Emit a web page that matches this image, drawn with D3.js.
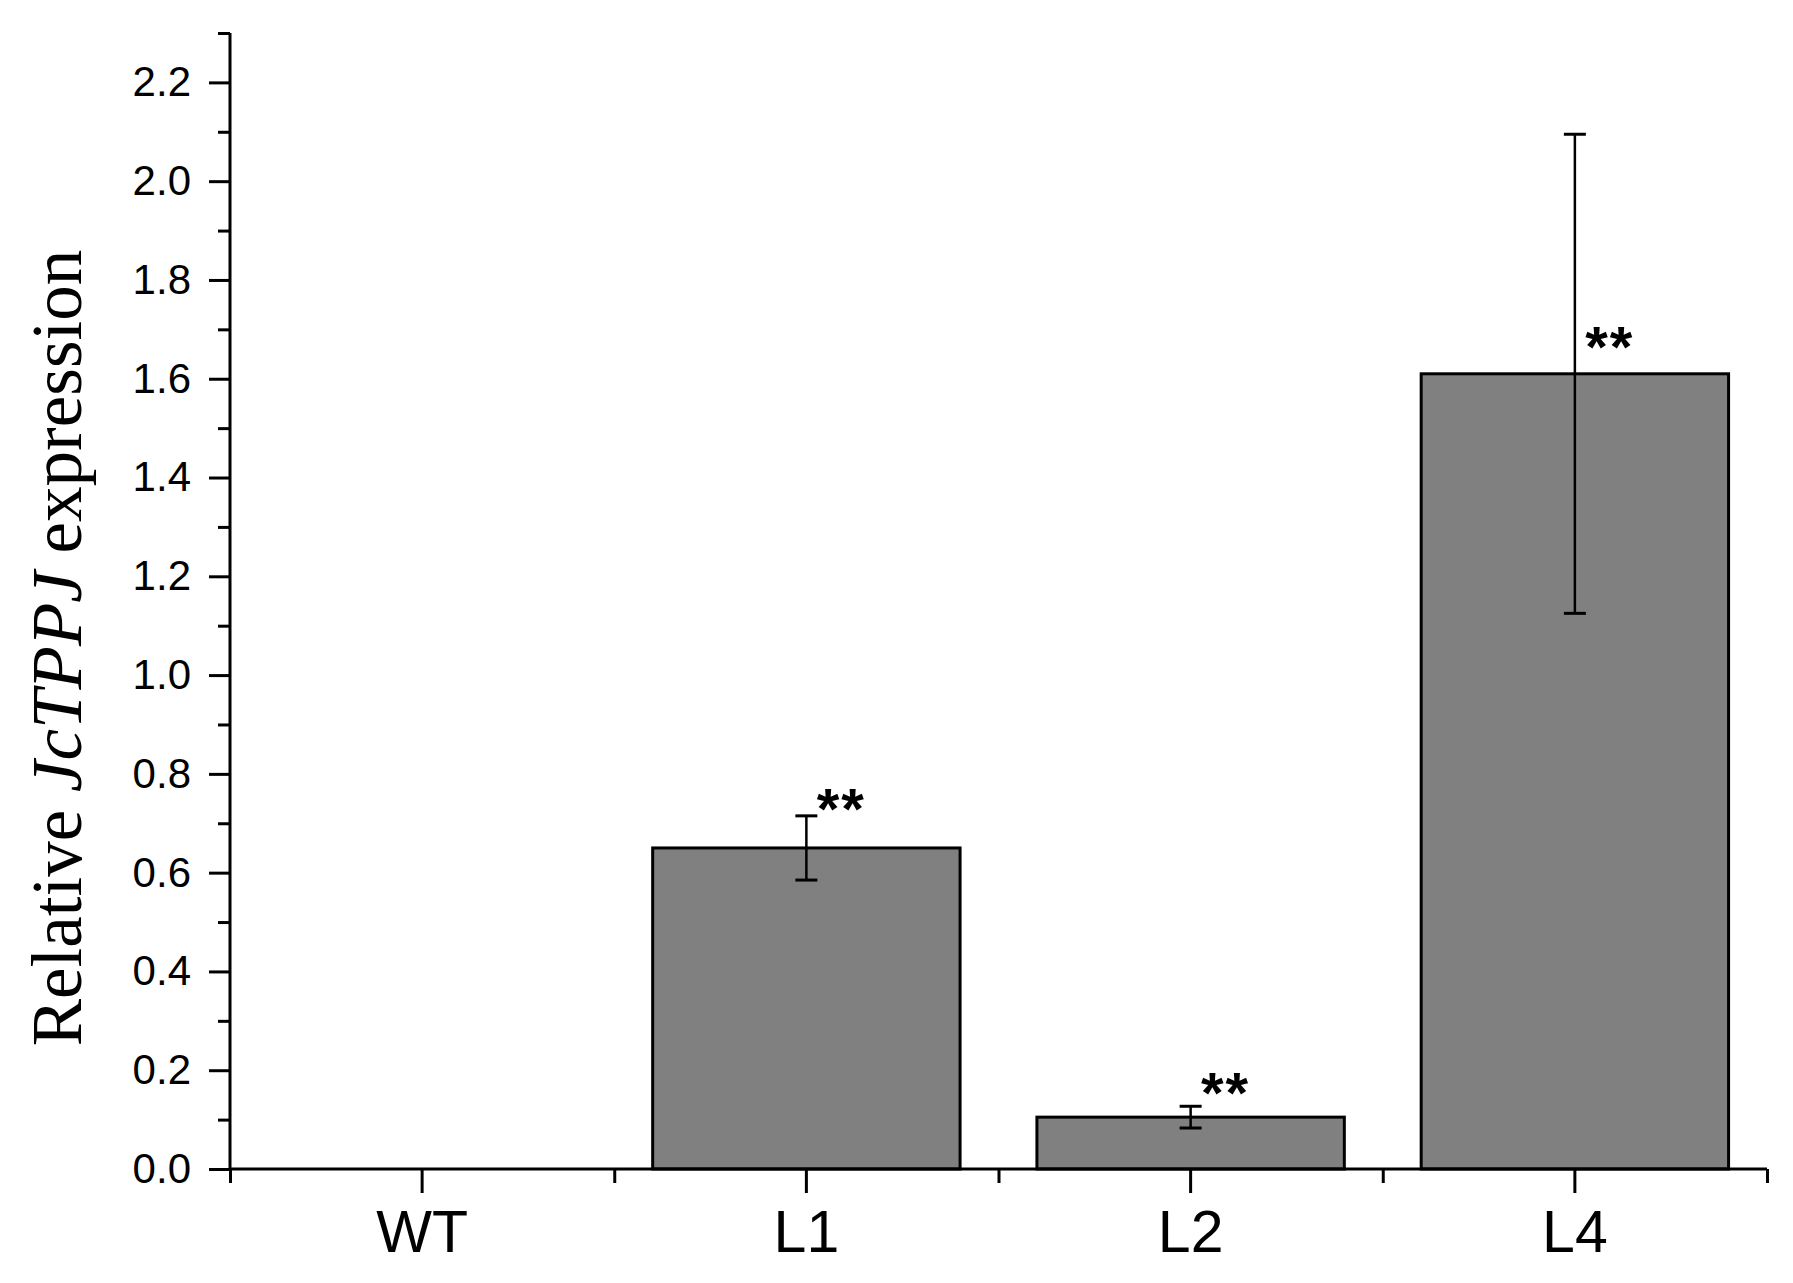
<!DOCTYPE html>
<html><head><meta charset="utf-8">
<script src="https://cdn.jsdelivr.net/npm/d3@7"></script>
<style>body{margin:0;background:#fff}</style>
</head><body>
<svg id="chart" width="1793" height="1283"></svg>
<script>
const categories = ["WT", "L1", "L2", "L4"];
const means = [0, 0.65, 0.105, 1.61];
const errors = [0, 0.065, 0.022, 0.485];
const sigLabels = ["", "**", "**", "**"];
const sigY = [null, 0.753, 0.178, 1.689];
const yMajorTicks = [0, 0.2, 0.4, 0.6, 0.8, 1.0, 1.2, 1.4, 1.6, 1.8, 2.0, 2.2];
const yMinorTicks = [0.1, 0.3, 0.5, 0.7, 0.9, 1.1, 1.3, 1.5, 1.7, 1.9, 2.1, 2.3];

(function () {
const svg = d3.select("#chart");
const pLeft = 230, pRight = 1767, pTop = 33, pBottom = 1169;

const x = d3.scaleBand().domain(categories).range([pLeft, pRight]).paddingInner(0.2).paddingOuter(0.1);
const xb = d3.scaleLinear().domain([0, categories.length]).range([pLeft, pRight]);
const y = d3.scaleLinear().domain([0, 2.3]).range([pBottom, pTop]);

// bars
svg.append("g").selectAll("rect").data(categories).join("rect")
  .attr("x", d => x(d))
  .attr("width", x.bandwidth())
  .attr("y", (d, i) => y(means[i]))
  .attr("height", (d, i) => y(0) - y(means[i]))
  .attr("fill", "#808080")
  .attr("stroke", "#000")
  .attr("stroke-width", 3)
  .style("display", (d, i) => means[i] > 0 ? null : "none");

// error bars
const eb = svg.append("g").attr("stroke", "#000");
categories.forEach((c, i) => {
  if (errors[i] <= 0) return;
  const cx = x(c) + x.bandwidth() / 2;
  eb.append("line").attr("x1", cx).attr("x2", cx)
    .attr("y1", y(means[i] - errors[i])).attr("y2", y(means[i] + errors[i])).attr("stroke-width", 2.5);
  [means[i] - errors[i], means[i] + errors[i]].forEach(v => {
    eb.append("line").attr("x1", cx - 11).attr("x2", cx + 11)
      .attr("y1", y(v)).attr("y2", y(v)).attr("stroke-width", 3);
  });
});

// significance labels
svg.append("g").selectAll("text").data(categories).join("text")
  .attr("x", d => x(d) + x.bandwidth() / 2 + 35)
  .attr("y", (d, i) => sigY[i] == null ? 0 : y(sigY[i]) + 32)
  .attr("text-anchor", "middle")
  .attr("font-family", "Liberation Sans, Arial, sans-serif")
  .attr("font-weight", "bold")
  .attr("font-size", 58)
  .attr("letter-spacing", 2)
  .text((d, i) => sigLabels[i]);

// y axis
const yAxis = svg.append("g").attr("transform", `translate(${pLeft},0)`)
  .call(d3.axisLeft(y).tickValues(yMajorTicks).tickSize(21).tickPadding(18).tickFormat(d3.format(".1f")));
const yMinor = svg.append("g").attr("transform", `translate(${pLeft},0)`)
  .call(d3.axisLeft(y).tickValues(yMinorTicks).tickSize(12).tickFormat(""));
yMinor.select(".domain").remove();

// x axis
const xAxis = svg.append("g").attr("transform", `translate(0,${pBottom})`)
  .call(d3.axisBottom(x).tickSize(24).tickPadding(17));
const xMinor = svg.append("g").attr("transform", `translate(0,${pBottom})`)
  .call(d3.axisBottom(xb).tickValues(d3.range(categories.length + 1)).tickSize(14).tickFormat(""));
xMinor.select(".domain").remove();

[yAxis, yMinor, xAxis, xMinor].forEach(g => {
  g.selectAll("path.domain").attr("stroke", "#000").attr("stroke-width", 3);
  g.selectAll(".tick line").attr("stroke", "#000").attr("stroke-width", 3);
});
xAxis.select(".domain").attr("d", `M${pLeft},0H${pRight}`);
yAxis.select(".domain").attr("d", `M0,${pTop}V${pBottom}`);

yAxis.selectAll("text").attr("font-family", "Liberation Sans, Arial, sans-serif").attr("font-size", 42).attr("fill", "#000");
xAxis.selectAll("text").attr("font-family", "Liberation Sans, Arial, sans-serif").attr("font-size", 59).attr("fill", "#000");

// y title
const title = svg.append("text")
  .attr("transform", `translate(81,648) rotate(-90)`)
  .attr("text-anchor", "middle")
  .attr("font-family", "Liberation Serif, Times New Roman, serif")
  .attr("font-size", 71)
  .attr("fill", "#000");
title.append("tspan").text("Relative ");
title.append("tspan").attr("font-style", "italic").text("JcTPPJ");
title.append("tspan").text(" expression");
})();
</script>
</body></html>
